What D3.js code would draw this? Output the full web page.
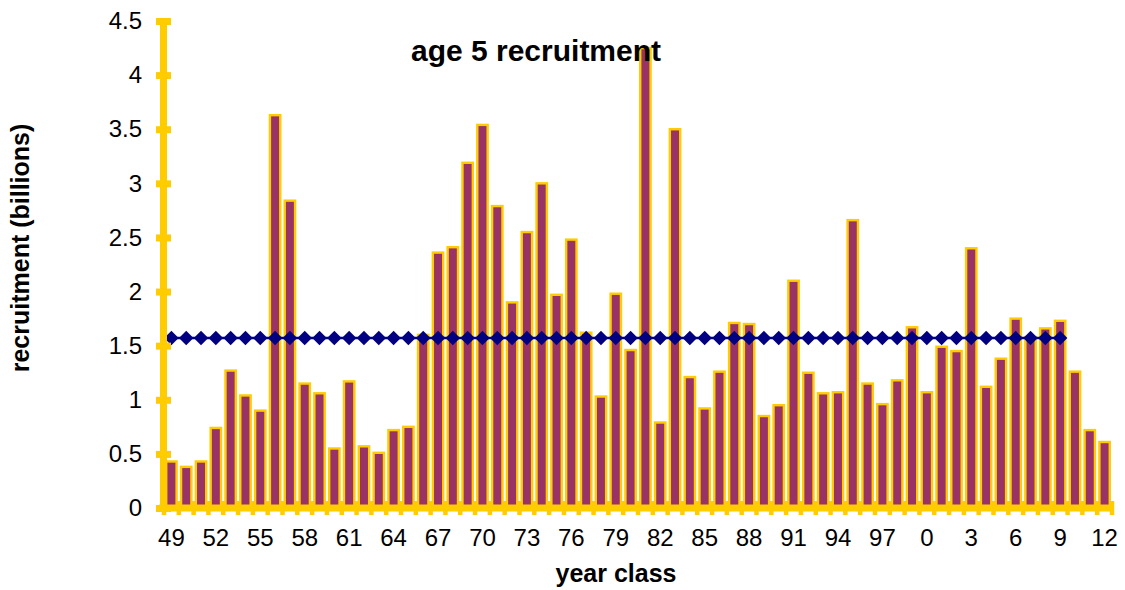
<!DOCTYPE html>
<html>
<head>
<meta charset="utf-8">
<script src="https://cdn.jsdelivr.net/npm/d3@7"></script>
<style>
    body { margin: 0; background: #fff; }
    svg { overflow: visible; }
    text { font-family: "Liberation Sans", Arial, sans-serif; fill: #000; }
</style>
</head>
<body>
<div id="chart"></div>
<script>
// year classes 1949 .. 2012
const years = d3.range(1949, 2013);

// age 5 recruitment, billions
const recruitment = [
    0.43, 0.38, 0.43, 0.74, 1.27, 1.04, 0.90, 3.63, 2.84, 1.15,
    1.06, 0.55, 1.17, 0.57, 0.51, 0.72, 0.75, 1.60, 2.36, 2.41,
    3.19, 3.54, 2.79, 1.90, 2.55, 3.00, 1.97, 2.48, 1.62, 1.03,
    1.98, 1.46, 4.25, 0.79, 3.50, 1.21, 0.92, 1.26, 1.71, 1.70,
    0.85, 0.95, 2.10, 1.25, 1.06, 1.07, 2.66, 1.15, 0.96, 1.18,
    1.67, 1.07, 1.49, 1.45, 2.40, 1.12, 1.38, 1.75, 1.58, 1.66,
    1.73, 1.26, 0.72, 0.61
];

// long term mean line, drawn 1949 .. 2009
const meanLevel = 1.57;
const meanLastYear = 2009;

const yTicks = [0, 0.5, 1, 1.5, 2, 2.5, 3, 3.5, 4, 4.5];
const xTickYears = years.filter(y => (y - 1949) % 3 === 0);

const width = 1125;
const height = 590;
const margin = { top: 21, right: 13, bottom: 82, left: 164 };
const innerWidth = width - margin.left - margin.right;
const innerHeight = height - margin.top - margin.bottom;

const barFill = "#993366";
const yellow = "#FFCC00";
const navy = "#000080";

const data = years.map((y, i) => ({ year: y, value: recruitment[i] }));
const meanData = years.filter(y => y <= meanLastYear).map(y => ({ year: y, value: meanLevel }));

const xScale = d3.scaleBand()
    .domain(years)
    .range([0, innerWidth])
    .paddingInner(0.3)
    .paddingOuter(0.15);

const yScale = d3.scaleLinear()
    .domain([0, 4.5])
    .range([innerHeight, 0]);

const svg = d3.select("#chart")
    .append("svg")
    .attr("width", width)
    .attr("height", height)
    .append("g")
    .attr("transform", `translate(${margin.left}, ${margin.top})`);

// bars
svg.selectAll("rect.bar")
    .data(data)
    .enter()
    .append("rect")
    .attr("class", "bar")
    .attr("x", d => xScale(d.year))
    .attr("y", d => yScale(d.value))
    .attr("width", xScale.bandwidth())
    .attr("height", d => innerHeight - yScale(d.value))
    .attr("fill", barFill)
    .attr("stroke", yellow)
    .attr("stroke-width", 2.4);

// mean line with diamonds
const line = d3.line()
    .x(d => xScale(d.year) + xScale.bandwidth() / 2)
    .y(d => yScale(d.value));

svg.append("path")
    .datum(meanData)
    .attr("d", line)
    .attr("fill", "none")
    .attr("stroke", navy)
    .attr("stroke-width", 2.5);

const diamond = d3.symbol().type(d3.symbolSquare).size(105);
svg.selectAll("path.marker")
    .data(meanData)
    .enter()
    .append("path")
    .attr("class", "marker")
    .attr("d", diamond)
    .attr("fill", navy)
    .attr("transform", d => `translate(${xScale(d.year) + xScale.bandwidth() / 2}, ${yScale(d.value)}) rotate(45)`);

// x axis: labels every third year, tick marks on category boundaries
const gap = (xScale.step() - xScale.bandwidth()) / 2;
const boundaries = years.map(y => xScale(y) - gap).concat([xScale(years[years.length - 1]) + xScale.bandwidth() + gap]);

const xAxis = d3.axisBottom(xScale)
    .tickValues(xTickYears)
    .tickFormat(d => String(d % 100))
    .tickSize(0)
    .tickPadding(21);

const gx = svg.append("g")
    .attr("id", "xAxis")
    .attr("transform", `translate(0, ${innerHeight})`)
    .call(xAxis);
gx.select(".domain").remove();
gx.selectAll("text").style("font-size", "24px");

gx.selectAll("line.bound")
    .data(boundaries)
    .enter()
    .append("line")
    .attr("class", "bound")
    .attr("x1", d => d).attr("x2", d => d)
    .attr("y1", -7).attr("y2", 7)
    .attr("stroke", yellow)
    .attr("stroke-width", 4.5);

gx.append("line")
    .attr("x1", -5)
    .attr("x2", boundaries[boundaries.length - 1] + 2)
    .attr("stroke", yellow)
    .attr("stroke-width", 7);

// y axis
const yAxis = d3.axisLeft(yScale)
    .tickValues(yTicks)
    .tickFormat(d3.format("~g"))
    .tickSize(0)
    .tickPadding(21);

const gy = svg.append("g")
    .attr("id", "yAxis")
    .attr("transform", "translate(-1, 0)")
    .call(yAxis);
gy.select(".domain")
    .attr("stroke", yellow)
    .attr("stroke-width", 7);
gy.selectAll(".tick line")
    .attr("x1", -7).attr("x2", 8)
    .attr("stroke", yellow)
    .attr("stroke-width", 7);
gy.selectAll("text").style("font-size", "24px");

// titles
svg.append("text")
    .attr("x", 536 - margin.left)
    .attr("y", 61 - margin.top)
    .attr("text-anchor", "middle")
    .style("font-size", "30px")
    .style("font-weight", "bold")
    .text("age 5 recruitment");

svg.append("text")
    .attr("x", 616 - margin.left)
    .attr("y", 582 - margin.top)
    .attr("text-anchor", "middle")
    .style("font-size", "25px")
    .style("font-weight", "bold")
    .text("year class");

svg.append("text")
    .attr("transform", `translate(${29 - margin.left}, ${248 - margin.top}) rotate(-90)`)
    .attr("text-anchor", "middle")
    .style("font-size", "25px")
    .style("font-weight", "bold")
    .text("recruitment (billions)");
</script>
</body>
</html>
